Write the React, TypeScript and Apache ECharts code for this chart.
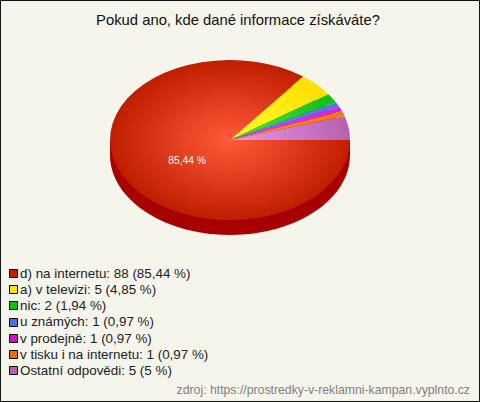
import React, { useEffect, useRef } from "react";
import * as echarts from "echarts";

const titleText = "Pokud ano, kde dané informace získáváte?";
const sourceText = "zdroj: https://prostredky-v-reklamni-kampan.vyplnto.cz";
const categories = ["d) na internetu", "a) v televizi", "nic", "u známých", "v prodejně", "v tisku i na internetu", "Ostatní odpovědi"];
const values = [88, 5, 2, 1, 1, 1, 5];
const percentLabels = ["85,44 %", "4,85 %", "1,94 %", "0,97 %", "0,97 %", "0,97 %", "5 %"];
const legendColors = ["#c41e00", "#ffe600", "#10c010", "#4a70e8", "#c810c8", "#e87000", "#b860b0"];
const innerColors = ["#ff5a3a", "#ffff30", "#40f040", "#7090ff", "#f040f0", "#ff9a20", "#e898e8"];
const outerColors = ["#c01e00", "#ffde00", "#10c010", "#5070f0", "#d820d8", "#f07800", "#b860b0"];
const sideColor = "#a80000";

const CX = 230;
const CY = 140;
const RX = 120;
const RY = 80;
const DEPTH = 15;

export default function App() {
  const ref = useRef<HTMLDivElement>(null);
  useEffect(() => {
    document.body.style.margin = "0";
    const chart = echarts.init(ref.current!, undefined, { renderer: "svg" });
    const total = values.reduce((a, b) => a + b, 0);
    const legendGraphics: any[] = [];
    categories.forEach((c, i) => {
      const y = 274 + i * 16.17;
      legendGraphics.push({
        type: "rect",
        shape: { x: 9.5, y: Math.round(y) - 4.5, width: 8, height: 8 },
        style: { fill: legendColors[i], stroke: "#000", lineWidth: 1 },
      });
      legendGraphics.push({
        type: "text",
        x: 20,
        y: y - 0.6,
        style: {
          text: `${c}: ${values[i]} (${percentLabels[i]})`,
          font: "13.4px 'Liberation Sans'",
          fill: "#222",
          verticalAlign: "middle",
          align: "left",
        },
      });
    });
    chart.setOption({
      animation: false,
      backgroundColor: "#f5f5ec",
      xAxis: { show: false, type: "value", min: 0, max: 480 },
      yAxis: { show: false, type: "value", min: 0, max: 402 },
      grid: { left: 0, right: 0, top: 0, bottom: 0 },
      graphic: [
        {
          type: "rect",
          shape: { x: 0.5, y: 0.5, width: 479, height: 401 },
          style: { fill: "none", stroke: "#111", lineWidth: 1 },
          z: 10,
        },
        {
          type: "text",
          x: 238,
          y: 19.5,
          style: {
            text: titleText,
            font: "14.8px 'Liberation Sans'",
            fill: "#111",
            align: "center",
            verticalAlign: "middle",
          },
        },
        ...legendGraphics,
        {
          type: "text",
          x: 470,
          y: 390,
          style: {
            text: sourceText,
            font: "12.25px 'Liberation Sans'",
            fill: "#808080",
            align: "right",
            verticalAlign: "middle",
          },
        },
        {
          type: "text",
          x: 187,
          y: 160,
          z: 10,
          style: {
            text: percentLabels[0],
            font: "10.2px 'Liberation Sans'",
            fill: "#fff",
            align: "center",
            verticalAlign: "middle",
          },
        },
      ],
      series: [
        {
          type: "custom",
          coordinateSystem: "none",
          data: [0],
          z: 1,
          silent: true,
          renderItem: () => ({
            type: "group",
            children: [
              { type: "rect", shape: { x: CX - RX, y: CY, width: RX * 2, height: DEPTH }, style: { fill: sideColor } },
              {
                type: "group",
                x: CX,
                y: CY + DEPTH,
                scaleY: RY / RX,
                children: [{ type: "circle", shape: { cx: 0, cy: 0, r: RX }, style: { fill: sideColor } }],
              },
            ],
          }),
        },
        {
          type: "custom",
          coordinateSystem: "none",
          data: values,
          z: 2,
          silent: true,
          renderItem: (params: any, api: any) => {
            const i = params.dataIndex;
            const before = values.slice(0, i).reduce((a, b) => a + b, 0);
            const start = (before / total) * Math.PI * 2;
            const end = ((before + api.value(0)) / total) * Math.PI * 2;
            return {
              type: "group",
              x: CX,
              y: CY,
              scaleY: RY / RX,
              children: [
                {
                  type: "sector",
                  shape: { cx: 0, cy: 0, r: RX, r0: 0, startAngle: start, endAngle: end, clockwise: true },
                  style: {
                    fill: new echarts.graphic.RadialGradient(0, 0, RX, [
                      { offset: 0, color: innerColors[i] },
                      { offset: 1, color: outerColors[i] },
                    ], true),
                  },
                },
              ],
            };
          },
        },
      ],
    });
    return () => chart.dispose();
  }, []);
  return <div ref={ref} style={{ width: 480, height: 402 }} />;
}
